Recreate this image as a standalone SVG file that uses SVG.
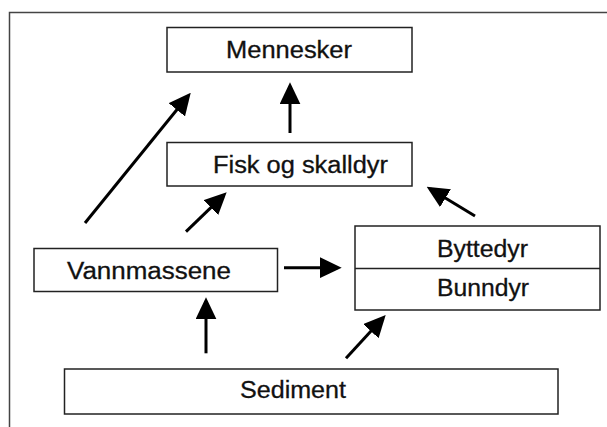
<svg xmlns="http://www.w3.org/2000/svg" width="607" height="427" viewBox="0 0 607 427">
  <style>
    .box { fill: #fff; stroke: #222; stroke-width: 1.5; }
    .lbl { font-family: "Liberation Sans", Arial, sans-serif; font-size: 23.5px; fill: #111; stroke: #111; stroke-width: 0.3; }
    .conn line { stroke: #000; stroke-width: 3; }
  </style>
  <defs>
    <marker id="ah" markerUnits="userSpaceOnUse" markerWidth="22" markerHeight="21" refX="18" refY="10.5" orient="auto">
      <path d="M0,0 L22,10.5 L0,21 z" fill="#000"/>
    </marker>
  </defs>
  <rect x="0" y="0" width="607" height="427" fill="#fff"/>
  <path d="M9.5,427 L9.5,12.5 L607,12.5" fill="none" stroke="#444" stroke-width="1.5"/>

  <g id="mennesker">
    <rect class="box" x="167" y="27.5" width="245" height="44.5"/>
    <text class="lbl" x="226" y="58" textLength="126" lengthAdjust="spacingAndGlyphs">Mennesker</text>
  </g>
  <g id="fisk">
    <rect class="box" x="167" y="142.5" width="245" height="43.5"/>
    <text class="lbl" x="213" y="173" textLength="175" lengthAdjust="spacingAndGlyphs">Fisk og skalldyr</text>
  </g>
  <g id="vannmassene">
    <rect class="box" x="34" y="248.5" width="243.5" height="43"/>
    <text class="lbl" x="67" y="278.5" textLength="164" lengthAdjust="spacingAndGlyphs">Vannmassene</text>
  </g>
  <g id="byttedyr-bunndyr">
    <rect class="box" x="355" y="226" width="245" height="84"/>
    <line x1="355" y1="268.5" x2="600" y2="268.5" stroke="#222" stroke-width="1.5"/>
    <text class="lbl" x="437" y="257" textLength="91" lengthAdjust="spacingAndGlyphs">Byttedyr</text>
    <text class="lbl" x="437" y="296" textLength="92" lengthAdjust="spacingAndGlyphs">Bunndyr</text>
  </g>
  <g id="sediment">
    <rect class="box" x="64.5" y="369" width="493.5" height="45"/>
    <text class="lbl" x="240" y="397.5" textLength="106" lengthAdjust="spacingAndGlyphs">Sediment</text>
  </g>

  <g id="connectors" class="conn">
    <line x1="85" y1="223" x2="188.2" y2="95.8" marker-end="url(#ah)"/>
    <line x1="290" y1="133" x2="290" y2="86.3" marker-end="url(#ah)"/>
    <line x1="186" y1="231.7" x2="223.8" y2="195.1" marker-end="url(#ah)"/>
    <line x1="475" y1="216" x2="430.1" y2="188.8" marker-end="url(#ah)"/>
    <line x1="284" y1="267.7" x2="337.7" y2="267.7" marker-end="url(#ah)"/>
    <line x1="206" y1="353.3" x2="206" y2="301.3" marker-end="url(#ah)"/>
    <line x1="346" y1="358.3" x2="383" y2="317.9" marker-end="url(#ah)"/>
  </g>
</svg>
